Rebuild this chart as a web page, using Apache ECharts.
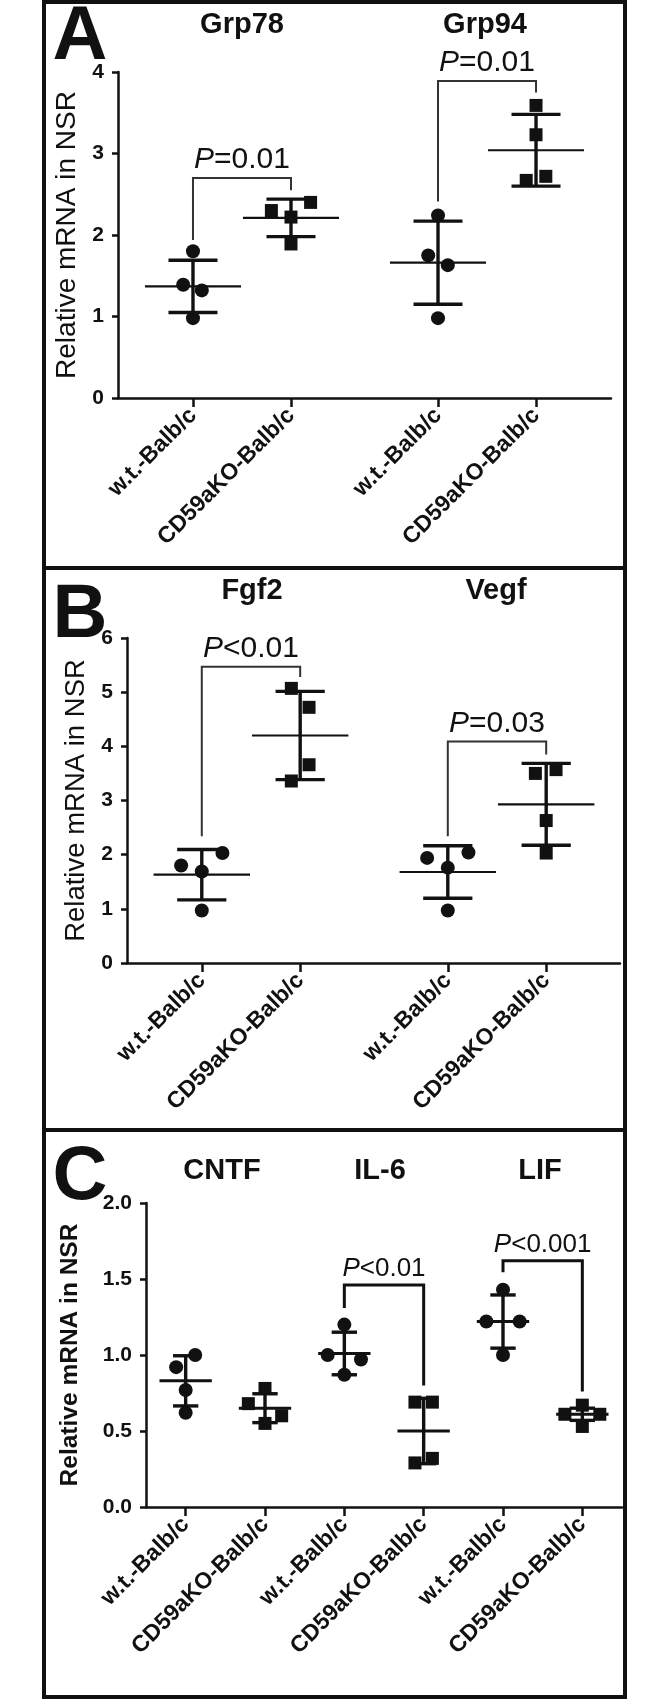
<!DOCTYPE html>
<html>
<head>
<meta charset="utf-8">
<script src="https://cdn.jsdelivr.net/npm/echarts@6.0.0/dist/echarts.min.js"></script>
<style>
html, body { margin: 0; padding: 0; background: #fff; }
#chart { width: 669px; height: 1699px; }
</style>
</head>
<body>
<div id="chart"></div>
<script>
// ---- values ----
const strains = ['w.t.-Balb/c', 'CD59aKO-Balb/c'];

// panel A
const genesA = ['Grp78', 'Grp94'];
const posA = [1, 2, 3.5, 4.5];
const valuesA = [
    [1.80, 1.39, 1.32, 0.98],
    [2.30, 2.40, 2.22, 1.89],
    [2.24, 1.75, 1.63, 0.98],
    [3.59, 3.23, 2.67, 2.72]
];
const jitterA = [
    [0, -0.10, 0.09, 0],
    [-0.20, 0.20, 0, 0],
    [0, -0.10, 0.10, 0],
    [0, 0, -0.10, 0.10]
];
const meanA = [1.37, 2.21, 1.66, 3.04];
const sdA = [0.32, 0.23, 0.51, 0.44];
// [from, to, top, left leg end, right leg end]
const bracketA = [[1, 2, 2.70, 1.94, 2.55], [3.5, 4.5, 3.89, 2.41, 3.75]];
const pTextA = ['=0.01', '=0.01'];

// panel B
const genesB = ['Fgf2', 'Vegf'];
const posB = [1, 2, 3.5, 4.5];
const valuesB = [
    [2.03, 1.80, 1.69, 0.97],
    [5.07, 4.72, 3.66, 3.36],
    [1.94, 2.04, 1.76, 0.97],
    [3.50, 3.57, 2.63, 2.03]
];
const jitterB = [
    [0.21, -0.21, 0, 0],
    [-0.09, 0.09, 0.09, -0.09],
    [-0.21, 0.21, 0, 0],
    [-0.11, 0.10, 0, 0]
];
const meanB = [1.63, 4.20, 1.68, 2.93];
const sdB = [0.465, 0.815, 0.485, 0.755];
const bracketB = [[1, 2, 5.47, 2.34, 5.28], [3.5, 4.5, 4.09, 2.34, 3.85]];
const pTextB = ['<0.01', '=0.03'];

// panel C
const genesC = ['CNTF', 'IL-6', 'LIF'];
const posC = [1, 2, 3, 4, 5, 6];
const valuesC = [
    [1.00, 0.92, 0.77, 0.62],
    [0.78, 0.68, 0.60, 0.55],
    [1.20, 1.00, 0.97, 0.87],
    [0.69, 0.69, 0.29, 0.32],
    [1.43, 1.22, 1.22, 1.00],
    [0.67, 0.61, 0.61, 0.53]
];
const jitterC = [
    [0.12, -0.12, 0, 0],
    [0, -0.21, 0.21, 0],
    [0, -0.21, 0.21, 0],
    [-0.11, 0.11, -0.11, 0.11],
    [0, -0.21, 0.21, 0],
    [0, -0.22, 0.22, 0]
];
const meanC = [0.83, 0.65, 1.01, 0.50, 1.22, 0.61];
const sdC = [0.165, 0.095, 0.14, 0.215, 0.175, 0.04];
const bracketC = [[3, 4, 1.46, 1.31, 0.80], [5, 6, 1.62, 1.545, 0.76]];
const pTextC = ['<0.01', '<0.001'];

// ---- drawing ----
const ink = '#111';
const font = '"Liberation Sans", Arial, sans-serif';

function points(pos, values, jitter, kind) {
    let out = [];
    values.forEach(function (grp, i) {
        if (i % 2 !== kind) return;
        grp.forEach(function (v, j) {
            out.push([pos[i] + jitter[i][j], v]);
        });
    });
    return out;
}

function barRenderer(meanHalf, capHalf, meanWidth) {
    return function (params, api) {
        let x = api.value(0), m = api.value(1), s = api.value(2);
        let c = api.coord([x, m]);
        let hi = api.coord([x, m + s]);
        let lo = api.coord([x, m - s]);
        let mw = api.size([meanHalf, 0])[0];
        let cw = api.size([capHalf, 0])[0];
        let st = { stroke: ink, lineWidth: 3.4 };
        return {
            type: 'group',
            children: [
                { type: 'line', shape: { x1: c[0] - mw, y1: c[1], x2: c[0] + mw, y2: c[1] }, style: { stroke: ink, lineWidth: meanWidth } },
                { type: 'line', shape: { x1: hi[0], y1: hi[1], x2: lo[0], y2: lo[1] }, style: st },
                { type: 'line', shape: { x1: hi[0] - cw, y1: hi[1], x2: hi[0] + cw, y2: hi[1] }, style: st },
                { type: 'line', shape: { x1: lo[0] - cw, y1: lo[1], x2: lo[0] + cw, y2: lo[1] }, style: st }
            ]
        };
    };
}

function bracketRenderer(texts, fontSize, lineWidth, color) {
    return function (params, api) {
        let x1 = api.value(0), x2 = api.value(1), top = api.value(2);
        let a = api.coord([x1, api.value(3)]);
        let b = api.coord([x1, top]);
        let c = api.coord([x2, top]);
        let d = api.coord([x2, api.value(4)]);
        return {
            type: 'group',
            children: [
                { type: 'polyline', shape: { points: [a, b, c, d] }, style: { stroke: color, lineWidth: lineWidth, fill: null } },
                {
                    type: 'text', x: (b[0] + c[0]) / 2, y: b[1] - 3,
                    style: {
                        text: '{i|P}' + texts[params.dataIndex],
                        rich: { i: { fontStyle: 'italic', fontSize: fontSize, fontFamily: font, fill: ink } },
                        fontSize: fontSize, fontFamily: font, fill: ink,
                        align: 'center', verticalAlign: 'bottom', textAlign: 'center', textVerticalAlign: 'bottom'
                    }
                }
            ]
        };
    };
}

function panelSeries(idx, pos, values, jitter, means, sds, brackets, pTexts, o) {
    return [
        {
            type: 'custom', xAxisIndex: idx, yAxisIndex: idx, z: 3,
            renderItem: barRenderer(o.meanHalf, o.capHalf, o.meanWidth),
            data: pos.map(function (p, i) { return [p, means[i], sds[i]]; })
        },
        {
            type: 'scatter', xAxisIndex: idx, yAxisIndex: idx, symbol: 'circle', symbolSize: 14,
            itemStyle: { color: ink, opacity: 1 }, data: points(pos, values, jitter, 0)
        },
        {
            type: 'scatter', xAxisIndex: idx, yAxisIndex: idx, symbol: 'rect', symbolSize: 13,
            itemStyle: { color: ink, opacity: 1 }, data: points(pos, values, jitter, 1)
        },
        {
            type: 'custom', xAxisIndex: idx, yAxisIndex: idx, z: 4, clip: false,
            renderItem: bracketRenderer(pTexts, o.pSize, o.bracketWidth, o.bracketColor),
            data: brackets
        }
    ];
}

function xAxis(idx, pos, min, max, size) {
    return {
        type: 'value', gridIndex: idx, min: min, max: max,
        splitLine: { show: false },
        axisLine: { lineStyle: { color: ink, width: 2.5 } },
        axisTick: { customValues: pos, length: 9, lineStyle: { color: ink, width: 2.5 } },
        axisLabel: {
            customValues: pos, rotate: 45, margin: 14,
            color: ink, fontSize: size, fontWeight: 'bold', fontFamily: font,
            formatter: function (v) { return strains[pos.indexOf(v) % 2]; }
        }
    };
}

function yAxis(idx, max, interval, o) {
    return {
        type: 'value', gridIndex: idx, min: 0, max: max, interval: interval,
        name: 'Relative mRNA in NSR', nameLocation: 'middle', nameGap: o.nameGap,
        nameTextStyle: { color: ink, fontSize: o.nameSize, fontWeight: o.nameWeight, fontFamily: font },
        splitLine: { show: false },
        axisLine: { show: true, lineStyle: { color: ink, width: 2.5 } },
        axisTick: { length: 6, lineStyle: { color: ink, width: 2.5 } },
        axisLabel: {
            margin: 14, color: ink, fontSize: o.labelSize, fontWeight: 'bold', fontFamily: font,
            formatter: o.fmt
        }
    };
}

function label(text, x, y, size) {
    return {
        type: 'text', x: x, y: y, z: 10,
        style: {
            text: text, fill: ink, font: 'bold ' + size + 'px ' + font,
            align: 'center', verticalAlign: 'middle', textAlign: 'center', textVerticalAlign: 'middle'
        }
    };
}

let chart = echarts.init(document.getElementById('chart'));

let abStyle = { meanHalf: 0.49, capHalf: 0.25, meanWidth: 2.2, pSize: 30, bracketWidth: 2, bracketColor: '#333' };
let cStyle = { meanHalf: 0.33, capHalf: 0.16, meanWidth: 3, pSize: 26, bracketWidth: 3, bracketColor: ink };

let option = {
    animation: false,
    backgroundColor: '#fff',
    grid: [
        { left: 118, right: 58, top: 72, bottom: 1301 },
        { left: 127, right: 49, top: 638, bottom: 736 },
        { left: 146, right: 47, top: 1203, bottom: 192 }
    ],
    xAxis: [
        xAxis(0, posA, 0.235, 5.265, 23),
        xAxis(1, posB, 0.24, 5.25, 23),
        xAxis(2, posC, 0.5, 6.5, 23)
    ],
    yAxis: [
        yAxis(0, 4, 1, { nameGap: 37, nameSize: 28, nameWeight: 'normal', labelSize: 21 }),
        yAxis(1, 6, 1, { nameGap: 36, nameSize: 27.5, nameWeight: 'normal', labelSize: 21 }),
        yAxis(2, 2, 0.5, { nameGap: 63, nameSize: 24.5, nameWeight: 'bold', labelSize: 21,
            fmt: function (v) { return v.toFixed(1); } })
    ],
    series: [].concat(
        panelSeries(0, posA, valuesA, jitterA, meanA, sdA, bracketA, pTextA, abStyle),
        panelSeries(1, posB, valuesB, jitterB, meanB, sdB, bracketB, pTextB, abStyle),
        panelSeries(2, posC, valuesC, jitterC, meanC, sdC, bracketC, pTextC, cStyle)
    ),
    graphic: [
        // frame and dividers
        { type: 'rect', shape: { x: 44, y: 2, width: 581, height: 1695 }, style: { stroke: ink, lineWidth: 4, fill: null } },
        { type: 'line', shape: { x1: 44, y1: 568, x2: 625, y2: 568 }, style: { stroke: ink, lineWidth: 4 } },
        { type: 'line', shape: { x1: 44, y1: 1130, x2: 625, y2: 1130 }, style: { stroke: ink, lineWidth: 4 } },
        // panel letters
        label('A', 80, 38, 76),
        label('B', 80, 616, 76),
        label('C', 80, 1178, 76),
        // gene titles
        label(genesA[0], 242, 25, 29),
        label(genesA[1], 485, 25, 29),
        label(genesB[0], 252, 591, 29),
        label(genesB[1], 496, 591, 29),
        label(genesC[0], 222, 1171, 29),
        label(genesC[1], 380, 1171, 29),
        label(genesC[2], 540, 1171, 29)
    ]
};

chart.setOption(option);
window.addEventListener('resize', function () {
    chart.resize();
});
</script>
</body>
</html>
